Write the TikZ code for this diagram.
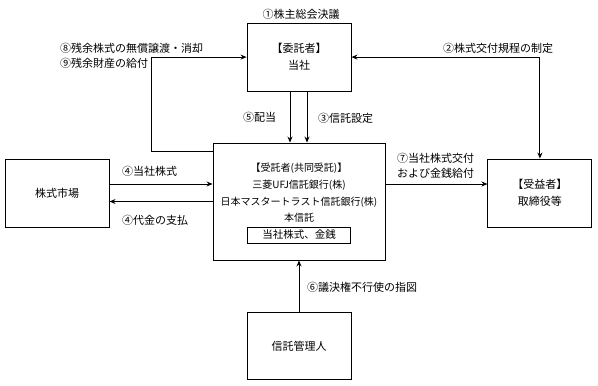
\documentclass[tikz,border=0pt]{standalone}
\usepackage{fontspec}
\setmainfont{Noto Sans CJK JP}
\usetikzlibrary{arrows.meta, positioning, calc}

\begin{document}
\begin{tikzpicture}[x=1pt, y=-1pt, auto,
  block/.style={rectangle, draw, line width=0.9pt, minimum width=104pt, minimum height=68pt, font=\fontsize{11}{17}\selectfont, align=center, inner sep=0pt},
  arrow/.style={-{Stealth[length=6pt, width=5pt]}, line width=0.9pt},
  both/.style={{Stealth[length=6pt, width=5pt]}-{Stealth[length=6pt, width=5pt]}, line width=0.9pt},
  lbl/.style={font=\fontsize{11}{15}\selectfont, inner sep=0pt, align=left}]
\useasboundingbox (0,0) rectangle (598,386);

\node[block, minimum width=172pt, minimum height=117pt] (jutaku) at (299,201.5) {};
\node[block, above=51pt of jutaku] (itaku) {【委託者】\\当社};
\node[block, below=52pt of jutaku, minimum height=67pt] (kanri) {信託管理人};
\node[block, left=103pt of jutaku, yshift=8.5pt] (market) {株式市場};
\node[block, right=102pt of jutaku, yshift=8.5pt] (jueki) {【受益者】\\取締役等};

% contents of the trust
\node[font=\fontsize{10}{16.7}\selectfont, align=center, inner sep=0pt, yshift=8.5pt] (jutakutxt) at (jutaku.center)
  {【受託者(共同受託)】\\三菱UFJ信託銀行(株)\\日本マスタートラスト信託銀行(株)\\本信託};
\node[draw, line width=0.9pt, minimum width=103pt, minimum height=16pt, inner sep=0pt, font=\fontsize{10.5}{12}\selectfont, yshift=-33.5pt] (kinsen) at (jutaku.center) {当社株式、金銭};

\draw[arrow] ([xshift=-9pt]itaku.south) -- ([xshift=-9pt]jutaku.north);
\draw[arrow] ([xshift=8pt]itaku.south) -- ([xshift=8pt]jutaku.north);
\draw[arrow] (kanri.north) -- (kanri.north |- jutaku.south);
\draw[arrow] ([yshift=9pt]market.east) -- ([yshift=17.5pt]jutaku.west);
\draw[arrow] (jutaku.west) -- (jutaku.west -| market.east);
\draw[arrow] ([yshift=17.5pt]jutaku.east) -- ([yshift=9pt]jueki.west);
\draw[both] (itaku.east) -| (jueki.north);
\draw[arrow] ([yshift=-9pt]jutaku.north west) -| ([xshift=-95pt]itaku.west) -- (itaku.west);

\node[lbl, anchor=center] (l1) at (301,14) {①株主総会決議};
\node[lbl, anchor=west] (l2) at (443,48) {②株式交付規程の制定};
\node[lbl, anchor=west] (l89) at (60,55.5) {⑧残余株式の無償譲渡・消却\\⑨残余財産の給付};
\node[lbl, anchor=west] (l5) at (243,117) {⑤配当};
\node[lbl, anchor=west] (l3) at (318,118) {③信託設定};
\node[lbl, anchor=west] (l4a) at (122,171) {④当社株式};
\node[lbl, anchor=west] (l4b) at (122,220) {④代金の支払};
\node[lbl, anchor=west] (l7) at (397,166) {⑦当社株式交付\\および金銭給付};
\node[lbl, anchor=west] (l6) at (307,287) {⑥議決権不行使の指図};
\end{tikzpicture}
\end{document}
